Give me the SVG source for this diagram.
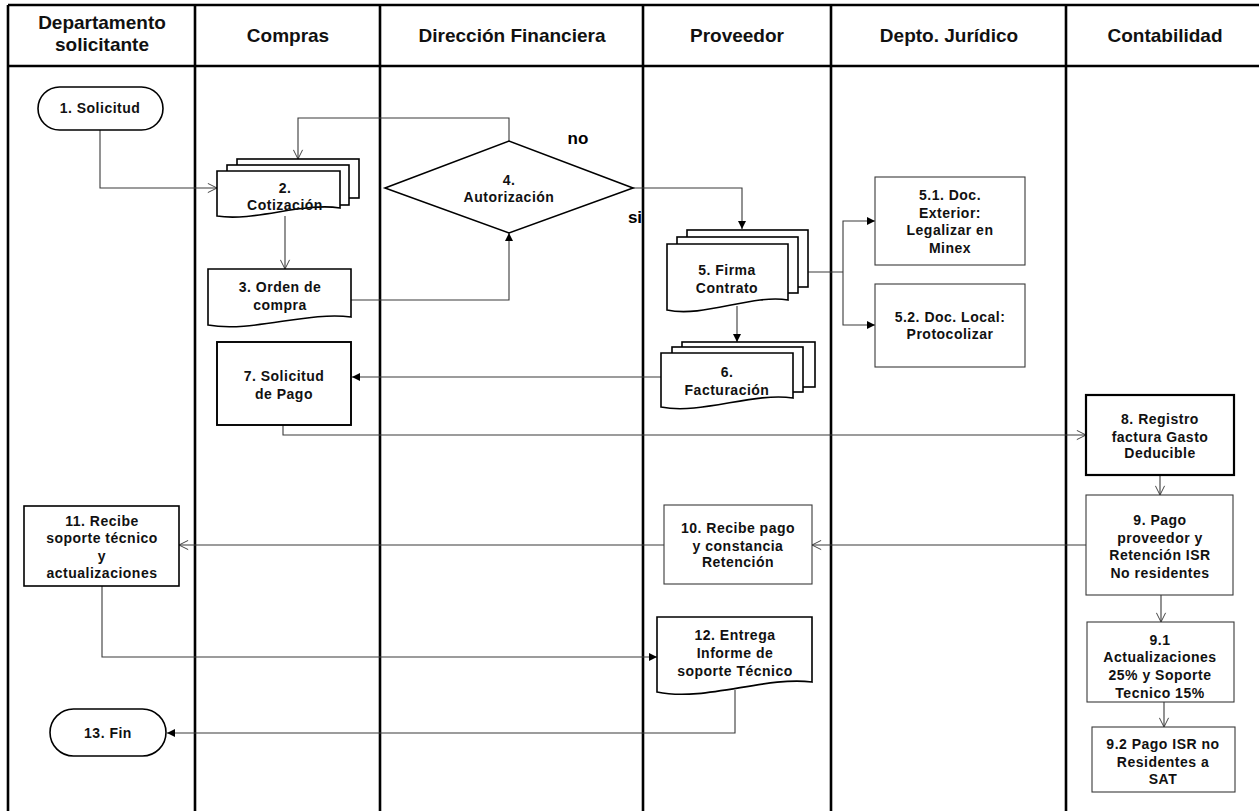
<svg xmlns="http://www.w3.org/2000/svg" width="1259" height="811" viewBox="0 0 1259 811">
<style>
.grid{stroke:#000;stroke-width:2.6;fill:none}
.hdr{font-family:"Liberation Sans",Arial,sans-serif;font-weight:bold;font-size:19px;fill:#111;text-anchor:middle}
.t{font-family:"Liberation Sans",Arial,sans-serif;font-weight:bold;font-size:14px;letter-spacing:0.5px;fill:#111;text-anchor:middle;dominant-baseline:central}
.lbl{font-family:"Liberation Sans",Arial,sans-serif;font-weight:bold;font-size:17px;fill:#000;text-anchor:middle;dominant-baseline:central}
.sb{fill:#fff;stroke:#000;stroke-width:1.6}
.thick{fill:#fff;stroke:#000;stroke-width:2.2}
.thin{fill:#fff;stroke:#3a3a3a;stroke-width:1.1}
.c{fill:none;stroke:#3a3a3a;stroke-width:1.1}
.cf{fill:none;stroke:#3a3a3a;stroke-width:1.1;marker-end:url(#af)}
.co{fill:none;stroke:#3a3a3a;stroke-width:1.1;marker-end:url(#ao)}
</style>
<defs>
<marker id="af" viewBox="0 0 10 10" refX="10" refY="5" markerWidth="9" markerHeight="8" markerUnits="userSpaceOnUse" orient="auto"><path d="M0,0 L10,5 L0,10 z" fill="#000"/></marker>
<marker id="ao" viewBox="-1 -1 12 12" refX="10" refY="5" markerWidth="11" markerHeight="11" markerUnits="userSpaceOnUse" orient="auto"><path d="M0,0 L10,5 L0,10" fill="none" stroke="#333" stroke-width="1"/></marker>
</defs>
<rect width="1259" height="811" fill="#fff"/>
<g id="lanes">
<path class="grid" d="M8,5 H1259 M8,66 H1259 M8,5 V811 M195,5 V811 M380,5 V811 M643,5 V811 M831,5 V811 M1066,5 V811"/>
<text class="hdr" x="102" y="29">Departamento</text>
<text class="hdr" x="102" y="51">solicitante</text>
<text class="hdr" x="288" y="42">Compras</text>
<text class="hdr" x="512" y="42">Dirección Financiera</text>
<text class="hdr" x="737" y="42">Proveedor</text>
<text class="hdr" x="949" y="42">Depto. Jurídico</text>
<text class="hdr" x="1165" y="42">Contabilidad</text>
</g>
<g id="connectors">
<path class="co" d="M100,130 V188 H217"/>
<path class="co" d="M509,141 V118 H298 V159"/>
<path class="co" d="M285,216 V269"/>
<path class="cf" d="M351,300 H509 V233"/>
<path class="cf" d="M633,188 H742 V229"/>
<path class="c" d="M808,272 H843"/>
<path class="cf" d="M843,272 V221 H875"/>
<path class="cf" d="M843,272 V325 H875"/>
<path class="cf" d="M737,306 V342"/>
<path class="cf" d="M661,377 H352"/>
<path class="co" d="M283,425 V435 H1086"/>
<path class="co" d="M1160,475 V495"/>
<path class="co" d="M1086,545 H812"/>
<path class="co" d="M664,545 H179"/>
<path class="cf" d="M102,586 V657 H657"/>
<path class="cf" d="M735,690 V733 H167"/>
<path class="co" d="M1161,595 V622"/>
<path class="co" d="M1164,702 V727"/>
<text class="lbl" x="578" y="138">no</text>
<text class="lbl" x="635" y="217">si</text>
</g>
<g id="n1"><rect class="sb" x="38" y="87" width="125" height="43" rx="21.5"/><text class="t" x="100" y="108">1. Solicitud</text></g>
<g id="n2">
<rect class="sb" x="237" y="159" width="122" height="39"/>
<rect class="sb" x="227" y="165" width="122" height="40"/>
<path class="sb" d="M217,171 H340 V208 C303,202 254,222 217,216 Z"/>
<text class="t" x="285" y="188">2.</text><text class="t" x="285" y="205">Cotización</text>
</g>
<g id="n3"><path class="sb" d="M208,269 H351 V317 C308,311 251,333 208,325 Z"/><text class="t" x="280" y="287">3. Orden de</text><text class="t" x="280" y="305">compra</text></g>
<g id="n4"><path class="sb" d="M385,188 L509,141 L633,188 L509,233 Z"/><text class="t" x="509" y="180">4.</text><text class="t" x="509" y="197">Autorización</text></g>
<g id="n5">
<rect class="sb" x="687" y="230" width="121" height="57"/>
<rect class="sb" x="677" y="237" width="121" height="56"/>
<path class="sb" d="M667,244 H788 V300 C752,294 703,318 667,310 Z"/>
<text class="t" x="727" y="270">5. Firma</text><text class="t" x="727" y="288">Contrato</text>
</g>
<g id="n51"><rect class="thin" x="875" y="177" width="150" height="88"/><text class="t" x="950" y="195">5.1. Doc.</text><text class="t" x="950" y="213">Exterior:</text><text class="t" x="950" y="230">Legalizar en</text><text class="t" x="950" y="248">Minex</text></g>
<g id="n52"><rect class="thin" x="875" y="284" width="150" height="83"/><text class="t" x="950" y="317">5.2. Doc. Local:</text><text class="t" x="950" y="334">Protocolizar</text></g>
<g id="n6">
<rect class="sb" x="682" y="342" width="133" height="45"/>
<rect class="sb" x="672" y="347" width="131" height="45"/>
<path class="sb" d="M661,353 H793 V398 C753,392 701,415 661,407 Z"/>
<text class="t" x="727" y="372">6.</text><text class="t" x="727" y="390">Facturación</text>
</g>
<g id="n7"><rect x="217" y="342" width="134" height="83" fill="#fff" stroke="#000" stroke-width="1.9"/><text class="t" x="284" y="376">7. Solicitud</text><text class="t" x="284" y="394">de Pago</text></g>
<g id="n8"><rect class="thick" x="1086" y="395" width="148" height="80"/><text class="t" x="1160" y="419">8. Registro</text><text class="t" x="1160" y="437">factura Gasto</text><text class="t" x="1160" y="453">Deducible</text></g>
<g id="n9"><rect class="thin" x="1086" y="495" width="147" height="100"/><text class="t" x="1160" y="520">9. Pago</text><text class="t" x="1160" y="538">proveedor y</text><text class="t" x="1160" y="555">Retención ISR</text><text class="t" x="1160" y="573">No residentes</text></g>
<g id="n10"><rect class="thin" x="664" y="505" width="148" height="79"/><text class="t" x="738" y="528">10. Recibe pago</text><text class="t" x="738" y="546">y constancia</text><text class="t" x="738" y="562">Retención</text></g>
<g id="n11"><rect class="sb" x="24" y="506" width="155" height="80"/><text class="t" x="102" y="521">11. Recibe</text><text class="t" x="102" y="538">soporte técnico</text><text class="t" x="102" y="556">y</text><text class="t" x="102" y="573">actualizaciones</text></g>
<g id="n12"><path class="sb" d="M657,617 H812 V682 C765,676 705,702 657,692 Z"/><text class="t" x="735" y="635">12. Entrega</text><text class="t" x="735" y="653">Informe de</text><text class="t" x="735" y="671">soporte Técnico</text></g>
<g id="n13"><rect class="sb" x="50" y="709" width="116" height="47" rx="23.5"/><text class="t" x="108" y="733">13. Fin</text></g>
<g id="n91"><rect class="thin" x="1087" y="622" width="147" height="80"/><text class="t" x="1160" y="640">9.1</text><text class="t" x="1160" y="657">Actualizaciones</text><text class="t" x="1160" y="675">25% y Soporte</text><text class="t" x="1160" y="693">Tecnico 15%</text></g>
<g id="n92"><rect class="thin" x="1092" y="727" width="143" height="65"/><text class="t" x="1163" y="744">9.2 Pago ISR no</text><text class="t" x="1163" y="762">Residentes a</text><text class="t" x="1163" y="779">SAT</text></g>
</svg>
